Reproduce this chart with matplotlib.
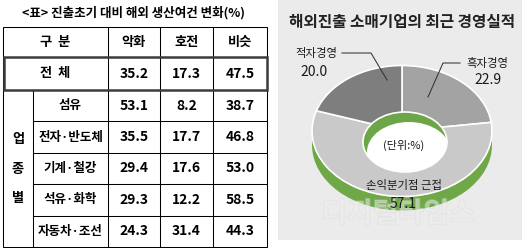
import matplotlib
matplotlib.use('Agg')
import matplotlib.pyplot as plt
from matplotlib.patches import Rectangle, Ellipse
import matplotlib.patheffects as pe

plt.rcParams['font.family'] = ['Noto Sans CJK KR', 'DejaVu Sans']

# 표: 진출초기 대비 해외 생산여건 변화(%)
table_title = '<표> 진출초기 대비 해외 생산여건 변화(%)'
col_names = ['악화', '호전', '비슷']
total_row = [35.2, 17.3, 47.5]
sectors = ['섬유', '전자·반도체', '기계·철강', '석유·화학', '자동차·조선']
worse = [53.1, 35.5, 29.4, 29.3, 24.3]
better = [8.2, 17.7, 17.6, 12.2, 31.4]
same = [38.7, 46.8, 53.0, 58.5, 44.3]

# 도넛: 해외진출 소매기업의 최근 경영실적
chart_title = '해외진출 소매기업의 최근 경영실적'
donut_labels = ['흑자경영', '손익분기점 근접', '적자경영']
donut_values = [22.9, 57.1, 20.0]
donut_colors = ['#a3a3a3', '#c9c9c9', '#7e7e7e']

W, H = 529, 248
fig = plt.figure(figsize=(W / 100, H / 100), dpi=100)
fig.patch.set_facecolor('white')

# 바탕 축 (픽셀 좌표)
bg = fig.add_axes([0, 0, 1, 1])
bg.set_xlim(0, W)
bg.set_ylim(H, 0)
bg.axis('off')

# ---- 왼쪽 표 ----
bg.text(133, 12.5, table_title, ha='center', va='center', fontsize=9, fontweight='bold')

xl, xr, xsub = 3, 267, 33
col_x = [108, 160, 213]
y_top, y_head, y_total, y_bot = 27, 57, 90, 247
row_h = (y_bot - y_total) / len(sectors)
lw = 0.75

bg.add_patch(Rectangle((xl, y_top), xr - xl, y_bot - y_top, fill=False, ec='black', lw=lw))
for x in col_x:
    bg.plot([x, x], [y_top, y_bot], color='black', lw=lw)
bg.plot([xsub, xsub], [y_total, y_bot], color='black', lw=lw)
for i in range(1, len(sectors)):
    y = y_total + row_h * i
    bg.plot([xsub, xr], [y, y], color='black', lw=lw)
bg.add_patch(Rectangle((xl + 0.5, y_head), xr - xl - 1, y_total - y_head, fill=False,
                       ec='#3c3c3c', lw=1.8, zorder=3))

col_cx = [(108 + 160) / 2, (160 + 213) / 2, (213 + 267) / 2]
txt = dict(ha='center', va='center', fontweight='bold', color='black')
bg.text((xl + col_x[0]) / 2, (y_top + y_head) / 2, '구  분', fontsize=9.5, **txt)
for cx, name in zip(col_cx, col_names):
    bg.text(cx, (y_top + y_head) / 2, name, fontsize=9.5, **txt)

bg.text((xl + col_x[0]) / 2, (y_head + y_total) / 2, '전  체', fontsize=9.5, **txt)
for cx, v in zip(col_cx, total_row):
    bg.text(cx, (y_head + y_total) / 2, f'{v:.1f}', fontsize=10, **txt)

for i, name in enumerate(sectors):
    cy = y_total + row_h * (i + 0.5)
    bg.text((xsub + col_x[0]) / 2, cy, name, fontsize=9, **txt)
    for cx, v in zip(col_cx, [worse[i], better[i], same[i]]):
        bg.text(cx, cy, f'{v:.1f}', fontsize=10, **txt)

group = '업종별'
gy = (y_total + y_bot) / 2
for k, ch in enumerate(group):
    bg.text((xl + xsub) / 2, gy + (k - 1) * 29.5, ch, fontsize=9.5, **txt)

# ---- 오른쪽 패널 ----
bg.add_patch(Rectangle((278, 0), 244, 240, fc='#ebebeb', ec='none', zorder=0))
bg.text(402.5, 21.5, chart_title, ha='center', va='center', fontsize=11.3,
        fontweight='bold', color='#222222')

# 도넛 축: 단위원이 가로 90px, 세로 65.5px 타원으로 보이도록
cx_px, cy_px, rx_px, ry_px = 402, 131, 90, 65.5
box = (292, 50, 512, 230)
dn = fig.add_axes([box[0] / W, (H - box[3]) / H, (box[2] - box[0]) / W, (box[3] - box[1]) / H])
xlim = ((box[0] - cx_px) / rx_px, (box[2] - cx_px) / rx_px)
ylim = ((cy_px - box[3]) / ry_px, (cy_px - box[1]) / ry_px)

# 측면(두께)
depth = 14 / ry_px
green = '#6fa947'
dn.add_patch(Ellipse((0, -depth), 2, 2, fc=green, ec='none', zorder=0))
dn.add_patch(Rectangle((-1, -depth), 2, depth, fc=green, ec='none', zorder=0))

dn.pie(donut_values, colors=donut_colors, startangle=90, counterclock=False, radius=1,
       wedgeprops=dict(edgecolor='white', linewidth=1.2))
dn.set_aspect('auto')
dn.set_xlim(*xlim)
dn.set_ylim(*ylim)
dn.axis('off')

# 가운데 구멍 (안쪽 벽은 초록)
hx, hy = (405 - cx_px) / rx_px, (cy_px - 142) / ry_px
hw, hh = 2 * 42 / rx_px, 2 * 30 / ry_px
hole = Ellipse((hx, hy), hw, hh, fc='#6da648', ec='white', lw=1.2, zorder=5)
dn.add_patch(hole)
floor = Ellipse((hx + 4 / rx_px, hy - 10 / ry_px), hw, hh, fc='white', ec='none', zorder=6)
dn.add_patch(floor)
floor.set_clip_path(hole)

# 라벨 축 (픽셀 좌표)
top = fig.add_axes([0, 0, 1, 1])
top.set_xlim(0, W)
top.set_ylim(H, 0)
top.axis('off')

top.text(398, 214, '디지털타임스', ha='center', va='center', fontsize=20, color='#f0f0f0',
         alpha=0.3, fontweight='bold',
         path_effects=[pe.withStroke(linewidth=1.2, foreground='#d8d8d8')])

lc = '#333333'
top.plot([342, 371, 387], [53, 53, 80], color=lc, lw=0.75)
top.plot([460, 443, 428], [63, 63, 97], color=lc, lw=0.75)

lab = dict(ha='center', va='center', color='#1a1a1a')
top.text(316.5, 54, donut_labels[2], fontsize=8.2, **lab)
top.text(314, 72, f'{donut_values[2]:.1f}', fontsize=10, **lab)
top.text(487.5, 63, donut_labels[0], fontsize=8.2, **lab)
top.text(488, 80, f'{donut_values[0]:.1f}', fontsize=10, **lab)
top.text(404, 186, donut_labels[1], fontsize=8.2, **lab)
top.text(403, 204, f'{donut_values[1]:.1f}', fontsize=10, **lab)
top.text(404, 145, '(단위:%)', fontsize=8, **lab)

fig.savefig('out.png', dpi=100)
